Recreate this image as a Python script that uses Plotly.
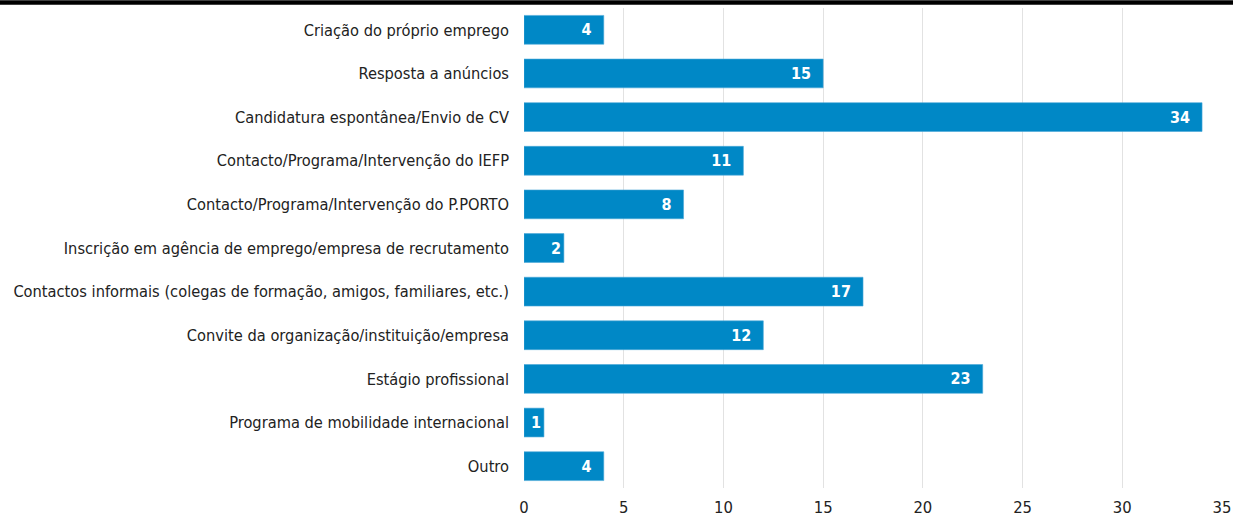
import plotly.graph_objects as go

categories = [
    "Criação do próprio emprego",
    "Resposta a anúncios",
    "Candidatura espontânea/Envio de CV",
    "Contacto/Programa/Intervenção do IEFP",
    "Contacto/Programa/Intervenção do P.PORTO",
    "Inscrição em agência de emprego/empresa de recrutamento",
    "Contactos informais (colegas de formação, amigos, familiares, etc.)",
    "Convite da organização/instituição/empresa",
    "Estágio profissional",
    "Programa de mobilidade internacional",
    "Outro",
]
values = [4, 15, 34, 11, 8, 2, 17, 12, 23, 1, 4]
x_ticks = [0, 5, 10, 15, 20, 25, 30, 35]

FONT = "DejaVu Sans Condensed, Liberation Sans Narrow, sans-serif"

# small bars get no right padding so the label still fits
templates = ["<b>%{text}</b>&nbsp;&nbsp;" if v >= 3 else "<b>%{text}</b>" for v in values]

fig = go.Figure()
fig.add_trace(go.Bar(
    x=values,
    y=categories,
    orientation="h",
    marker=dict(color="#0088c6", line=dict(color="#4aa8d8", width=0.6)),
    text=[str(v) for v in values],
    textposition="inside",
    insidetextanchor="end",
    textangle=0,
    constraintext="none",
    textfont=dict(color="white", size=16, family=FONT),
    texttemplate=templates,
    hoverinfo="x+y",
))

fig.update_layout(
    width=1233,
    height=520,
    margin=dict(l=524, r=11, t=8, b=32),
    plot_bgcolor="white",
    paper_bgcolor="white",
    bargap=0.34,
    showlegend=False,
    font=dict(family=FONT, size=16, color="#222222"),
    xaxis=dict(
        range=[0, 35],
        tickvals=x_ticks,
        showgrid=True,
        gridcolor="#e2e2e2",
        gridwidth=1,
        zeroline=False,
        showline=False,
        ticks="",
        automargin=False,
        ticklabelstandoff=7,
        tickfont=dict(size=16.5, color="#222222"),
    ),
    yaxis=dict(
        autorange="reversed",
        showgrid=False,
        showline=False,
        ticks="",
        automargin=False,
        ticklabelstandoff=14,
        tickfont=dict(size=16.3, color="#222222"),
    ),
    shapes=[dict(
        type="line", xref="paper", yref="paper",
        x0=-0.76, x1=1.03, y0=1.0115, y1=1.0115,
        line=dict(color="black", width=4.5),
    )],
)

fig.write_html("out.html", post_script="document.body.style.margin='0';",
               config={"displayModeBar": False})
